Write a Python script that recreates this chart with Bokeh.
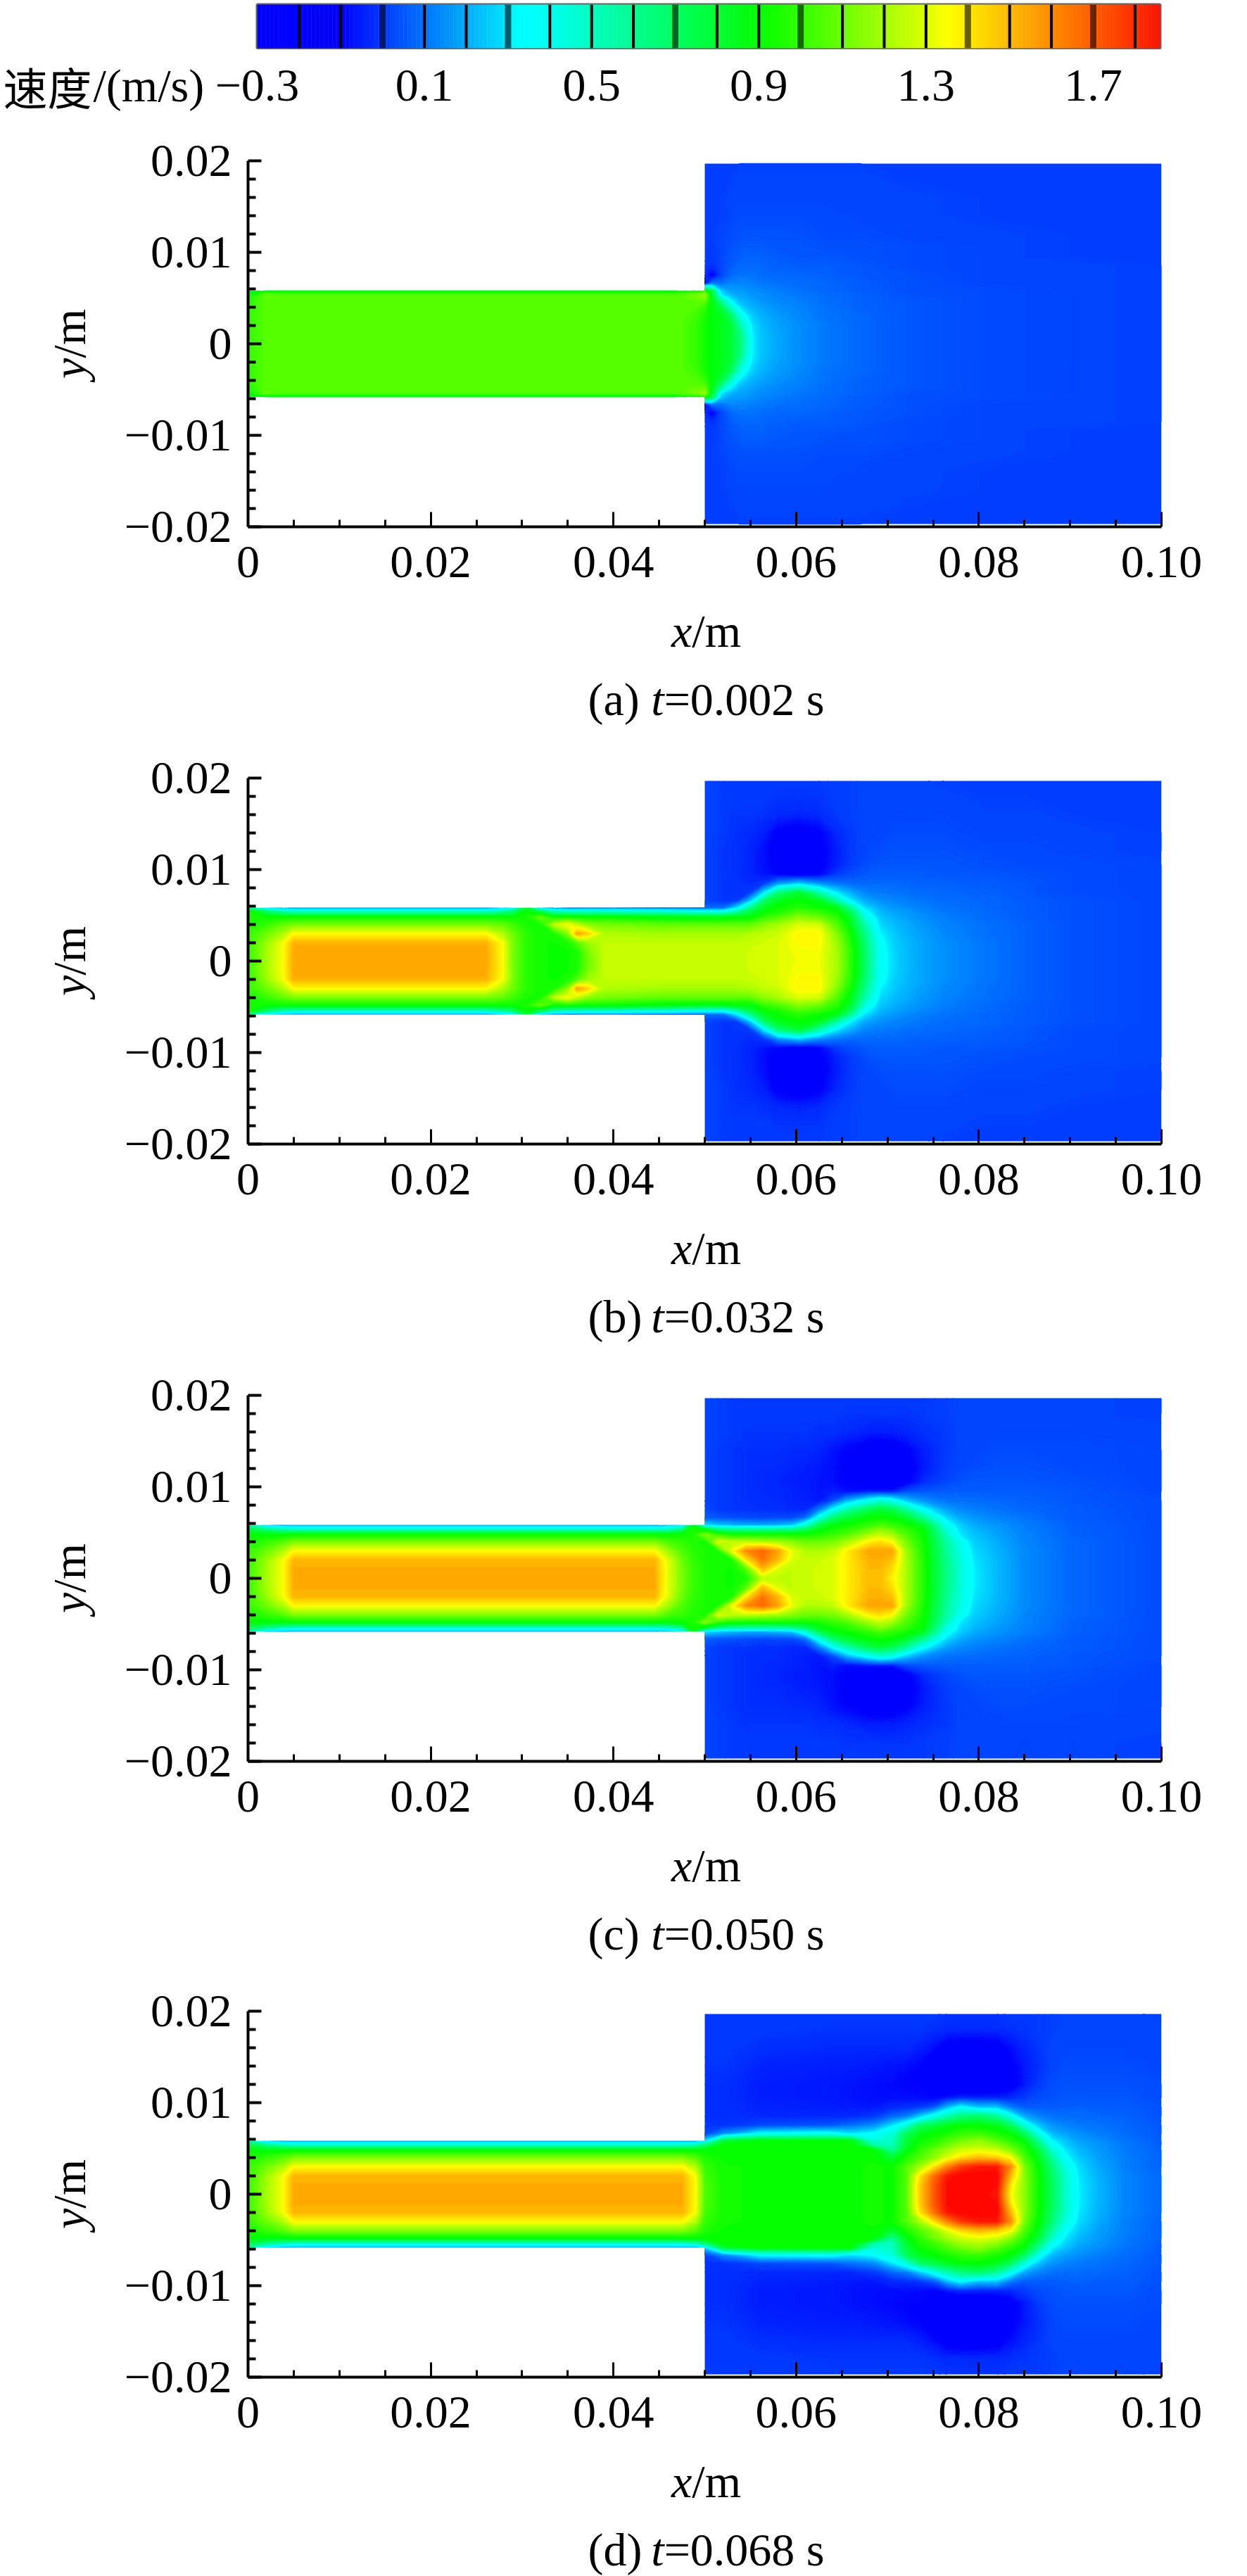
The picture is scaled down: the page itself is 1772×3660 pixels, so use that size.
import numpy as np
from bokeh.core.properties import value
from bokeh.embed import file_html
from bokeh.resources import INLINE
from bokeh.plotting import figure
from bokeh.layouts import column, row
from bokeh.models import FixedTicker, Range1d, AllLabels

# ---- colour bar scale
cbar_min, cbar_max = -0.3, 1.86
cbar_ticks = [-0.3, 0.1, 0.5, 0.9, 1.3, 1.7]
cbar_tick_labels = ["\u22120.3", "0.1", "0.5", "0.9", "1.3", "1.7"]
cbar_seps = [-0.2, -0.1, 0.0, 0.1, 0.2, 0.3, 0.4, 0.5, 0.6, 0.7, 0.8, 0.9, 1.0, 1.1, 1.2, 1.3, 1.4, 1.5, 1.6, 1.7, 1.8]
cbar_wide = [0.0, 0.3, 0.7, 1.0, 1.4, 1.7]
stop_v = [-0.35, -0.1, 0.3, 0.32, 0.4, 0.9, 1.0, 1.3, 1.35, 1.9, 2.0]
stop_r = [0, 0, 0, 0, 0, 0, 50, 220, 255, 255, 255]
stop_g = [0, 0, 230, 255, 255, 255, 255, 255, 255, 0, 0]
stop_b = [255, 255, 255, 255, 240, 0, 0, 0, 0, 0, 0]

# ---- axes
x_major = [0, 0.02, 0.04, 0.06, 0.08, 0.10]
x_major_labels = ["0", "0.02", "0.04", "0.06", "0.08", "0.10"]
x_minor = [0.005, 0.01, 0.015, 0.025, 0.03, 0.035, 0.045, 0.05, 0.055, 0.065, 0.07, 0.075, 0.085, 0.09, 0.095]
y_major = [-0.02, -0.01, 0, 0.01, 0.02]
y_major_labels = ["\u22120.02", "\u22120.01", "0", "0.01", "0.02"]
y_minor = [-0.018, -0.016, -0.014, -0.012, -0.008, -0.006, -0.004, -0.002, 0.002, 0.004, 0.006, 0.008, 0.012, 0.014, 0.016, 0.018]

# ---- velocity, upper half (mirrored about y=0)
y_half = [0, .001, .002, .003, .004, .0048, .0054, .0058, .0066, .0075, .0085, .0095, .0105, .012, .014, .016, .018, .0197]

x_a = [0, .0006, .002, .003, .03, .047, .049, .05, .0508, .0518, .0528, .0538, .0545, .0552, .056, .0575, .06, .063, .067, .072, .08, .09, .1]
z_a = [
 [.98,.98,.98,.98,.98,.95,.9,.8],
 [1.02,1.02,1.02,1.02,1.02,1.0,.95,.8],
 [1.06,1.06,1.06,1.06,1.06,1.07,1.1,.85],
 [1.07,1.07,1.07,1.07,1.07,1.07,1.05,.85],
 [1.07,1.07,1.07,1.07,1.07,1.07,1.05,.85],
 [1.07,1.07,1.07,1.07,1.07,1.07,1.05,.85],
 [1.0,1.0,1.0,1.02,1.05,1.08,1.12,.9],
 [.93,.93,.93,.95,1.0,1.1,1.18,.95,-.1,-.02,0,.01,.01,.01,.01,.01,.01,.01],
 [.88,.88,.88,.88,.88,.85,.8,.72,.12,-.12,-.02,0,0,.01,.01,.01,.01,.01],
 [.85,.85,.85,.85,.75,.55,.3,.25,.1,.02,.02,.02,.02,.02,.01,.01,.01,.01],
 [.8,.8,.8,.72,.5,.32,.22,.18,.13,.08,.06,.05,.04,.03,.02,.02,.01,.01],
 [.68,.66,.58,.45,.3,.22,.18,.17,.13,.1,.08,.06,.05,.04,.03,.02,.02,.01],
 [.5,.48,.42,.33,.24,.2,.18,.16,.13,.1,.08,.07,.06,.04,.03,.02,.02,.01],
 [.32,.32,.3,.26,.21,.18,.16,.15,.12,.1,.08,.07,.06,.04,.03,.02,.02,.01],
 [.25,.25,.24,.22,.19,.16,.15,.14,.11,.09,.08,.07,.06,.04,.03,.02,.02,.01],
 [.2,.2,.19,.18,.16,.14,.13,.12,.1,.08,.07,.06,.05,.04,.03,.02,.02,.01],
 [.15,.15,.15,.14,.13,.12,.11,.1,.09,.08,.06,.05,.05,.04,.03,.02,.02,.01],
 [.11,.11,.11,.1,.1,.09,.09,.08,.08,.07,.06,.05,.04,.03,.03,.02,.02,.01],
 [.08,.08,.08,.08,.07,.07,.07,.06,.06,.05,.05,.04,.04,.03,.02,.02,.02,.01],
 [.05,.05,.05,.05,.05,.05,.04,.04,.04,.04,.03,.03,.03,.02,.02,.02,.01,.01],
 [.03,.03,.03,.03,.03,.03,.03,.03,.02,.02,.02,.02,.02,.02,.01,.01,.01,.01],
 [.02,.02,.02,.02,.02,.02,.02,.02,.02,.02,.02,.01,.01,.01,.01,.01,.01,.01],
 [.01,.01,.01,.01,.01,.01,.01,.01,.01,.01,.01,.01,.01,.01,.01,.01,.01,.01],
]

x_b = [0, .002, .0038, .005, .015, .026, .0279, .029, .0304, .032, .0335, .035, .036, .0372, .039, .045,
       .05, .052, .0535, .055, .0565, .058, .0603, .0625, .0645, .066, .0675, .0692, .071, .073, .076, .08, .085, .09, .1]
z_b = [
 [1.0,1.0,1.0,1.0,.95,.95,.95,.6],
 [1.2,1.2,1.18,1.1,1.0,.92,.7,.3],
 [1.35,1.35,1.34,1.22,1.08,.92,.55,.2],
 [1.54,1.54,1.52,1.36,1.12,.92,.5,.16],
 [1.54,1.54,1.52,1.36,1.12,.92,.5,.16],
 [1.54,1.54,1.52,1.36,1.12,.92,.5,.16],
 [1.35,1.35,1.34,1.22,1.08,.92,.6,.25],
 [1.12,1.12,1.12,1.1,1.02,.92,.68,.35],
 [.98,.98,.98,.98,.95,.95,.9,.8],
 [.93,.93,.93,.93,.93,1.1,.75,.25],
 [.92,.92,.92,.95,1.25,.92,.55,.15],
 [.92,.92,.95,1.15,1.35,.95,.5,.12],
 [.95,.95,1.05,1.55,1.25,.92,.48,.12],
 [1.1,1.12,1.18,1.45,1.15,.92,.48,.12],
 [1.26,1.26,1.25,1.22,1.12,.92,.48,.12],
 [1.26,1.26,1.25,1.2,1.08,.88,.45,.1],
 [1.26,1.26,1.25,1.2,1.08,.85,.4,.08,.02,.02,.02,.02,.02,.02,.02,.02,.02,.02],
 [1.26,1.26,1.25,1.2,1.08,.85,.38,.1,-.01,-.01,-.01,-.01,-.01,-.01,0,0,0,0],
 [1.26,1.26,1.25,1.2,1.08,.88,.55,.3,0,-.01,-.01,-.02,-.02,-.02,-.02,-.01,0,0],
 [1.28,1.28,1.26,1.22,1.08,.88,.78,.62,.25,0,-.03,-.04,-.04,-.04,-.03,-.01,0,0],
 [1.3,1.3,1.28,1.25,1.15,1.0,.9,.84,.7,.3,0,-.07,-.08,-.08,-.05,-.02,0,0],
 [1.3,1.3,1.3,1.27,1.2,1.05,.95,.92,.85,.65,.15,-.1,-.13,-.13,-.12,-.03,-.01,0],
 [1.33,1.34,1.36,1.37,1.3,1.15,1.05,.98,.9,.8,.25,-.15,-.2,-.2,-.15,-.04,-.01,0],
 [1.33,1.34,1.36,1.37,1.28,1.1,1.0,.92,.85,.55,.15,-.1,-.13,-.13,-.11,-.03,-.01,0],
 [1.2,1.2,1.18,1.13,1.05,.98,.92,.85,.55,.3,.1,0,-.04,-.05,-.03,0,.01,.01],
 [.98,.98,.96,.92,.85,.8,.7,.6,.32,.2,.08,.03,0,0,0,.01,.01,.01],
 [.7,.7,.68,.62,.55,.45,.35,.3,.2,.13,.08,.05,.03,.02,.02,.02,.02,.02],
 [.36,.36,.35,.32,.28,.25,.22,.2,.15,.11,.08,.06,.05,.03,.02,.02,.02,.02],
 [.26,.26,.25,.24,.22,.2,.18,.16,.13,.1,.08,.06,.05,.04,.03,.02,.02,.02],
 [.2,.2,.2,.19,.18,.16,.15,.13,.11,.09,.07,.06,.05,.04,.03,.02,.02,.02],
 [.15,.15,.15,.14,.13,.12,.11,.1,.09,.08,.07,.05,.05,.04,.03,.02,.02,.01],
 [.11,.11,.11,.1,.1,.09,.09,.08,.08,.07,.06,.05,.04,.03,.02,.02,.01,.01],
 [.07,.07,.07,.07,.07,.06,.06,.06,.06,.05,.05,.04,.03,.03,.02,.02,.01,.01],
 [.04,.04,.04,.04,.04,.04,.04,.04,.04,.03,.03,.03,.03,.02,.02,.01,.01,.01],
 [.02,.02,.02,.02,.02,.02,.02,.02,.02,.02,.02,.02,.02,.01,.01,.01,.01,.01],
]

x_c = [0, .002, .0038, .005, .025, .0445, .0457, .0475, .0486,
       .05, .0514, .053, .0545, .0563, .058, .0595, .061, .0625, .064, .0655, .068, .0692, .0705, .072, .074, .0765, .078, .0795, .082, .085, .09, .1]
z_c = [
 [1.0,1.0,1.0,1.0,.95,.9,.75,.55],
 [1.2,1.2,1.18,1.1,1.0,.88,.6,.25],
 [1.35,1.35,1.34,1.22,1.06,.88,.5,.2],
 [1.53,1.53,1.51,1.36,1.13,.9,.44,.2],
 [1.53,1.53,1.51,1.36,1.13,.9,.44,.2],
 [1.53,1.53,1.51,1.36,1.13,.9,.44,.2],
 [1.35,1.35,1.34,1.22,1.06,.88,.45,.22],
 [1.12,1.12,1.1,1.05,1.0,.92,.6,.28],
 [1.02,1.02,1.0,.98,.96,.94,.95,.85],
 [.95,.95,.95,.95,.93,1.15,.8,.3,.06,.03,.02,.02,.02,.02,.02,.02,.02,.02],
 [.93,.93,.93,.95,1.3,1.0,.6,.25,.05,0,0,0,0,0,0,.01,.01,.01],
 [.92,.92,.95,1.35,1.25,.93,.55,.22,.04,-.01,-.01,-.01,-.01,-.01,-.01,0,0,0],
 [.95,1.05,1.4,1.6,1.25,.92,.55,.2,.03,-.01,-.02,-.02,-.02,-.02,-.02,-.01,0,0],
 [1.25,1.5,1.65,1.68,1.22,.92,.55,.2,.02,-.02,-.02,-.03,-.03,-.03,-.02,-.01,0,0],
 [1.25,1.3,1.5,1.55,1.2,.92,.55,.22,.03,-.02,-.03,-.03,-.04,-.03,-.02,-.01,0,0],
 [1.25,1.25,1.3,1.33,1.15,.92,.58,.25,.03,-.03,-.04,-.04,-.05,-.04,-.03,-.01,0,0],
 [1.27,1.27,1.26,1.22,1.1,.92,.68,.45,.1,-.03,-.05,-.05,-.05,-.05,-.03,-.01,0,0],
 [1.28,1.28,1.27,1.22,1.1,.95,.85,.75,.4,.12,-.06,-.07,-.07,-.06,-.04,-.02,0,0],
 [1.3,1.3,1.3,1.25,1.12,1.0,.93,.88,.68,.35,.03,-.05,-.08,-.08,-.07,-.02,0,0],
 [1.38,1.38,1.38,1.38,1.2,1.05,.97,.92,.8,.55,.2,-.08,-.11,-.11,-.1,-.03,-.01,0],
 [1.5,1.5,1.52,1.55,1.38,1.2,1.08,1.0,.9,.75,.38,-.05,-.2,-.2,-.15,-.05,-.01,0],
 [1.5,1.5,1.52,1.55,1.42,1.25,1.15,1.05,.92,.8,.45,-.05,-.2,-.2,-.16,-.05,-.01,0],
 [1.38,1.42,1.48,1.55,1.35,1.2,1.08,1.0,.9,.75,.4,-.05,-.2,-.2,-.15,-.05,-.01,0],
 [1.22,1.22,1.22,1.2,1.12,1.05,1.0,.95,.82,.6,.25,.03,-.12,-.14,-.11,-.04,-.01,0],
 [.95,.95,.95,.93,.92,.9,.88,.82,.6,.35,.15,.05,-.02,-.06,-.05,-.02,0,0],
 [.62,.62,.6,.58,.56,.5,.42,.38,.28,.18,.1,.06,.02,.01,0,0,.01,.01],
 [.45,.45,.44,.42,.38,.3,.28,.26,.2,.14,.09,.06,.04,.02,.02,.02,.02,.02],
 [.31,.31,.3,.28,.26,.24,.22,.2,.16,.12,.09,.06,.05,.03,.02,.02,.02,.02],
 [.22,.22,.22,.21,.2,.18,.17,.16,.13,.1,.08,.06,.05,.04,.03,.02,.02,.02],
 [.14,.14,.14,.14,.13,.13,.12,.12,.1,.08,.07,.06,.05,.04,.03,.02,.02,.02],
 [.08,.08,.08,.08,.08,.07,.07,.07,.06,.06,.05,.05,.04,.03,.03,.02,.02,.02],
 [.03,.03,.03,.03,.03,.03,.03,.03,.03,.03,.03,.02,.02,.02,.02,.02,.01,.01],
]

x_d = [0, .002, .0038, .005, .025, .0475, .049,
       .05, .052, .056, .0635, .066, .0685, .0705, .072, .0735, .075, .0765, .078, .08, .082, .0835, .085, .0865, .088, .0895, .091, .093, .096, .1]
z_d = [
 [1.0,1.0,1.0,1.0,.95,.9,.75,.55],
 [1.2,1.2,1.18,1.1,1.0,.88,.6,.25],
 [1.35,1.35,1.34,1.22,1.06,.88,.5,.2],
 [1.53,1.53,1.51,1.36,1.13,.9,.44,.2],
 [1.53,1.53,1.51,1.36,1.13,.9,.44,.2],
 [1.53,1.53,1.51,1.36,1.13,.9,.44,.2],
 [1.35,1.35,1.34,1.22,1.06,.9,.5,.2],
 [1.05,1.05,1.03,1.0,.96,.9,.65,.3,.02,-.01,-.02,-.02,-.02,-.02,-.01,0,0,0],
 [.93,.93,.93,.93,.92,.92,.9,.8,.15,-.01,-.02,-.02,-.02,-.02,-.01,0,0,0],
 [.92,.92,.92,.92,.92,.92,.92,.92,.35,.03,-.03,-.04,-.05,-.05,-.04,-.02,0,0],
 [.92,.92,.92,.92,.92,.92,.92,.92,.38,.05,-.03,-.05,-.06,-.06,-.05,-.03,-.01,0],
 [.92,.92,.92,.92,.92,.92,.92,.9,.3,.1,-.03,-.06,-.07,-.07,-.05,-.03,-.01,0],
 [.93,.93,.93,.93,.92,.9,.55,.45,.35,.15,0,-.06,-.08,-.08,-.06,-.03,-.01,0],
 [.92,.92,.92,.92,.8,.6,.5,.5,.45,.3,.08,-.03,-.08,-.09,-.07,-.03,-.01,0],
 [1.05,1.05,1.05,1.05,.95,.85,.8,.78,.72,.45,.12,-.02,-.08,-.1,-.08,-.03,-.01,0],
 [1.45,1.45,1.4,1.2,1.05,1.0,.95,.92,.85,.7,.25,0,-.08,-.11,-.1,-.05,-.01,0],
 [1.7,1.7,1.65,1.4,1.15,1.1,1.0,.97,.9,.78,.4,.05,-.1,-.18,-.16,-.08,-.02,0],
 [1.88,1.88,1.85,1.62,1.3,1.2,1.1,1.05,.95,.85,.55,.22,-.05,-.25,-.24,-.14,-.03,-.01],
 [1.9,1.9,1.9,1.78,1.42,1.28,1.18,1.12,1.0,.9,.65,.35,-.02,-.25,-.25,-.15,-.03,-.01],
 [1.9,1.9,1.9,1.85,1.5,1.32,1.22,1.18,1.02,.9,.7,.25,-.03,-.25,-.25,-.15,-.03,-.01],
 [1.85,1.88,1.9,1.85,1.45,1.28,1.15,1.08,.95,.85,.6,.25,-.03,-.22,-.22,-.14,-.03,-.01],
 [1.35,1.4,1.5,1.6,1.35,1.15,1.05,.98,.9,.72,.4,.12,-.03,-.14,-.13,-.08,-.02,0],
 [1.15,1.15,1.15,1.12,1.05,.98,.93,.88,.72,.45,.2,.06,0,-.06,-.06,-.04,-.01,0],
 [.92,.92,.92,.9,.85,.78,.68,.6,.42,.25,.13,.06,.03,0,-.02,-.01,0,0],
 [.72,.72,.7,.66,.58,.48,.38,.33,.23,.16,.1,.06,.04,.03,.02,.02,.01,.01],
 [.48,.48,.47,.43,.34,.3,.26,.24,.18,.13,.09,.06,.05,.04,.03,.02,.02,.02],
 [.31,.31,.3,.28,.25,.22,.2,.18,.15,.11,.09,.07,.05,.04,.03,.02,.02,.02],
 [.22,.22,.21,.2,.18,.17,.16,.15,.12,.1,.08,.06,.05,.04,.03,.02,.02,.02],
 [.13,.13,.13,.12,.12,.11,.11,.1,.09,.08,.07,.06,.05,.04,.03,.02,.02,.02],
 [.08,.08,.08,.07,.07,.07,.06,.06,.05,.05,.04,.04,.03,.03,.02,.02,.02,.01],
]

captions = ["(a)", "(b)", "(c)", "(d)"]
times = ["=0.002 s", "=0.032 s", "=0.050 s", "=0.068 s"]

# ---- styles
SERIF = "Liberation Serif"
FS = 66
FSPX = f"{FS}px"
FRAME_H = 520
CAP_W = 1772
LABEL_W = 158
PANEL_W = 1614
BORDER_L = 194
BORDER_R = 122
BORDER_B = 115
DROP = 19  # the text glyph sets its "alphabetic" line this far under the given y


def colour(v):
    r = np.interp(v, stop_v, stop_r)
    g = np.interp(v, stop_v, stop_g)
    b = np.interp(v, stop_v, stop_b)
    return "#%02x%02x%02x" % (int(round(r)), int(round(g)), int(round(b)))


levels = ([-0.35] + [round(-0.1 + 0.005 * i, 4) for i in range(44)]
          + [round(0.12 + 0.0125 * i, 4) for i in range(18)]
          + [round(0.35 + 0.025 * i, 4) for i in range(65)])
fill_cols = [colour((levels[i] + levels[i + 1]) / 2) for i in range(len(levels) - 1)]
line_cols = [colour(v) for v in levels]


def grid(xs, cols):
    # one extra column right at the step, so the wall corner stays square
    xs = list(xs)
    cols = list(cols)
    k = xs.index(.05)
    xs.insert(k, .04999)
    cols.insert(k, cols[k][:8])
    ny = len(y_half)
    half = np.full((ny, len(xs)), np.nan)
    for j, c in enumerate(cols):
        half[: len(c), j] = c
    z = np.vstack([half[:0:-1], half])
    y = np.array([-v for v in y_half[:0:-1]] + y_half)
    return np.array(xs), y, z


def bare(p):
    p.axis.visible = False
    p.grid.visible = False
    p.outline_line_color = None
    return p


def overlay(w, h, xr=None):
    return bare(figure(width=w, height=h, x_range=xr or Range1d(0, w), y_range=Range1d(h, 0),
                       min_border_left=0, min_border_right=0, min_border_top=0, min_border_bottom=0,
                       output_backend="svg", toolbar_location=None, tools=""))


def put(p, s, x, y, style="normal", font=SERIF, angle=0.0, size=FSPX, align="left"):
    p.text(x=[x], y=[y], text=[s], text_font=value(font), text_font_size=value(size),
           text_font_style=style, text_baseline="alphabetic", text_align=align,
           text_color="#000000", angle=angle)


def panel(xs, cols, cap, tm, top, cap_h):
    height = top + FRAME_H + BORDER_B
    p = figure(width=PANEL_W, height=height, frame_width=1298, frame_height=FRAME_H,
               x_range=Range1d(0, 0.1), y_range=Range1d(-0.02, 0.02),
               min_border_left=BORDER_L, min_border_right=BORDER_R, min_border_top=top,
               min_border_bottom=BORDER_B,
               output_backend="svg", toolbar_location=None, tools="")
    p.grid.visible = False
    p.outline_line_color = None
    X, Y, Z = grid(xs, cols)
    p.contour(X, Y, Z, levels, fill_color=fill_cols, line_color=line_cols, line_width=1.3)

    xa, ya = p.xaxis[0], p.yaxis[0]
    xa.ticker = FixedTicker(ticks=x_major, minor_ticks=x_minor)
    xa.major_label_overrides = {k: v for k, v in zip(x_major, x_major_labels)}
    ya.ticker = FixedTicker(ticks=y_major, minor_ticks=y_minor)
    ya.major_label_overrides = {k: v for k, v in zip(y_major, y_major_labels)}
    for a, w in ((xa, 3), (ya, 4)):
        a.major_label_policy = AllLabels()
        a.axis_line_width = 4
        a.axis_line_color = "#000000"
        a.major_tick_line_color = "#000000"
        a.minor_tick_line_color = "#000000"
        a.major_tick_line_width = w
        a.minor_tick_line_width = w
        a.major_tick_out = 0
        a.minor_tick_out = 0
        a.major_label_text_font = SERIF
        a.major_label_text_font_size = FSPX
        a.major_label_text_color = "#000000"
    xa.major_tick_in = 21
    xa.minor_tick_in = 10
    ya.major_tick_in = 19
    ya.minor_tick_in = 11
    xa.major_label_standoff = 28
    ya.major_label_standoff = 23

    # y/m, rotated, in a strip left of the panel whose frame lines up with it
    side = bare(figure(width=LABEL_W, height=height, frame_width=LABEL_W, frame_height=FRAME_H,
                       x_range=Range1d(0, LABEL_W), y_range=Range1d(FRAME_H, 0),
                       min_border_left=0, min_border_right=0, min_border_top=top, min_border_bottom=BORDER_B,
                       output_backend="svg", toolbar_location=None, tools=""))
    w = 1.5 * FS
    cy = FRAME_H / 2
    put(side, "y", 117 - DROP, cy + w / 2, "italic", angle=np.pi / 2)
    put(side, "/m", 117 - DROP, cy + w / 2 - 0.444 * FS, angle=np.pi / 2)

    # x/m and the caption, in a strip under the panel
    strip = overlay(CAP_W, cap_h)
    cx = 1003
    put(strip, "x", cx - w / 2, 52 - DROP, "italic")
    put(strip, "/m", cx - w / 2 + 0.444 * FS, 52 - DROP)
    wc = 5.09 * FS
    base = 149 - DROP
    put(strip, cap, cx - wc / 2, base)
    put(strip, "t", cx - wc / 2 + 1.36 * FS, base, "italic")
    put(strip, tm, cx - wc / 2 + 1.638 * FS, base)
    return column(row(side, p, spacing=0), strip, spacing=0)


# ---- colour bar
CB_L = 365
cb = figure(width=CAP_W, height=70, frame_width=1283, frame_height=62,
            x_range=Range1d(cbar_min, cbar_max), y_range=Range1d(0, 1),
            min_border_left=CB_L, min_border_right=124, min_border_top=6, min_border_bottom=2,
            output_backend="svg", toolbar_location=None, tools="")
bare(cb)
cb.outline_line_color = "#666666"
cb.outline_line_width = 4
n = int(round((cbar_max - cbar_min) / 0.01))
lefts = [cbar_min + 0.01 * i for i in range(n)]
cb.quad(left=lefts, right=[v + 0.01 for v in lefts], bottom=0, top=1,
        fill_color=[colour(v + 0.005) for v in lefts],
        line_color=[colour(v + 0.005) for v in lefts], line_width=0.5)
cb.segment(x0=cbar_seps, x1=cbar_seps, y0=0, y1=1, line_color="#000000",
           line_width=[9 if s in cbar_wide else 4 for s in cbar_seps],
           line_alpha=[0.6 if s in cbar_wide else 1.0 for s in cbar_seps])

# the strip beneath it uses the same value scale
px_per_unit = 1283 / (cbar_max - cbar_min)
v_left = cbar_min - CB_L / px_per_unit
v_right = cbar_min + (CAP_W - CB_L) / px_per_unit
cb_strip = overlay(CAP_W, 90, xr=Range1d(v_left, v_right))
for t, lab in zip(cbar_ticks, cbar_tick_labels):
    put(cb_strip, lab, t, 70 - DROP, align="center")
put(cb_strip, "\u901f\u5ea6", v_left + 4 / px_per_unit, 70 - DROP, font="Noto Sans CJK SC", size="63px")
put(cb_strip, "/(m/s)", v_left + 132 / px_per_unit, 70 - DROP)

pa = panel(x_a, z_a, captions[0], times[0], 68, 177)
pb = panel(x_b, z_b, captions[1], times[1], 65, 175)
pc = panel(x_c, z_c, captions[2], times[2], 67, 173)
pd_ = panel(x_d, z_d, captions[3], times[3], 67, 168)

page = column(row(cb), row(cb_strip), pa, pb, pc, pd_, spacing=0)
open("out.html", "w").write(file_html(page, INLINE))
